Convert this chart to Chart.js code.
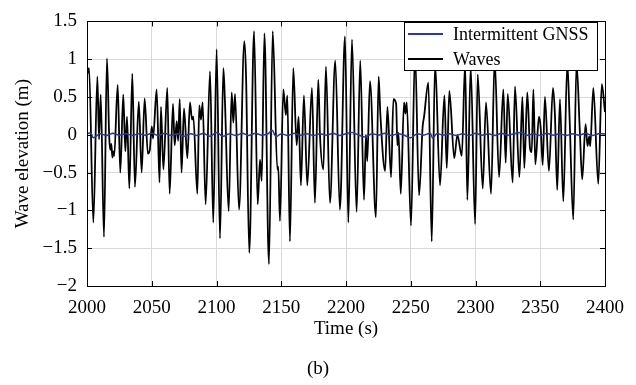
<!DOCTYPE html>
<html>
<head>
<meta charset="utf-8">
<script src="https://cdn.jsdelivr.net/npm/chart.js@4.4.0/dist/chart.umd.min.js"></script>
<style>
  html, body { margin: 0; padding: 0; background: #fff; }
  #waves { display: block; }
</style>
</head>
<body>
<canvas id="waves" width="636" height="385"></canvas>
<script>
// wave elevation (peaks / troughs), time in s, elevation in m
const waveTime = [
  2000, 2001.6, 2004.9, 2008, 2009.3, 2010.6, 2013.1, 2015.4, 2017.2, 2018, 2018.8, 2019.6, 2020.3, 2021,
  2023.7, 2025.7, 2028, 2029.6, 2030.9, 2032.7, 2035, 2037, 2040, 2042.2, 2044.5, 2047, 2048.5, 2050, 2051,
  2053.8, 2056, 2057.1, 2059, 2062, 2063.8, 2066.4, 2067.7, 2069.3, 2070.4, 2071.6, 2073, 2074.9, 2077.5,
  2079.5, 2081.1, 2082.1, 2085.2, 2086.7, 2088, 2089.3, 2091.6, 2095, 2097.5, 2100.1, 2102.7, 2105.3, 2106.5,
  2109.4, 2111.7, 2113, 2114.3, 2117.4, 2121.5, 2122.8, 2125.3, 2129, 2131.8, 2133.6, 2134.9, 2137, 2140.5,
  2143.4, 2147, 2147.7, 2149, 2151.6, 2153.6, 2154.7, 2156.7, 2159.3, 2161.9, 2163.4, 2165.2, 2167.5, 2170.1,
  2173.7, 2176, 2178.6, 2179.9, 2182.5, 2184.5, 2187.6, 2191.7, 2195.3, 2199.2, 2201.8, 2204.6, 2208.2, 2211,
  2213.9, 2215.4, 2216.4, 2218.5, 2223.1, 2225.2, 2226.5, 2230.2, 2232, 2234.8, 2236.6, 2238.7, 2239.7, 2240.5,
  2242.3, 2244.8, 2245.9, 2246.9, 2250.2, 2253.3, 2256.4, 2259.2, 2260.3, 2263.6, 2266.2, 2268.8, 2272.6, 2276,
  2277.8, 2279.8, 2283.6, 2286, 2289.4, 2292, 2293.7, 2296.3, 2299.7, 2301.7, 2305.6, 2308.1, 2312, 2314.8,
  2318.2, 2321.5, 2323.3, 2324.9, 2328.7, 2330.5, 2333.9, 2336.2, 2337.7, 2340, 2342.1, 2343.4, 2344.7, 2346.2,
  2349, 2350.3, 2351.9, 2353.6, 2356.7, 2359.8, 2361.3, 2363.1, 2365.2, 2367.8, 2370.9, 2372.7, 2375.5, 2378,
  2380.6, 2382.4, 2385, 2386.5, 2387.8, 2388.6, 2391, 2394.8, 2397.5, 2400
];
const waveElev = [
  0.79, 0.88, -1.16, 0.77, -0.06, 0.53, -1.35, 1.01, -0.05, -0.2, -0.12, -0.3, -0.22, -0.28,
  0.66, -0.5, 0.53, -0.22, 0.24, -0.71, 0.81, -0.69, 0.44, -0.5, 0.48, -0.25, -0.2, 0.11, -0.05,
  0.6, -0.63, 0.37, -0.46, 0.62, -0.78, 0.41, -0.14, 0.18, -0.08, 0.47, -0.5, 0.35, -0.31,
  0.43, 0.2, 0.24, -0.78, 0.39, 0.2, 0.43, -0.92, 0.84, -1.16, 1.13, -1.37, 0.88, 0.45,
  -1.01, 0.56, 0.16, 0.54, -0.99, 1.24, 0.79, -1.56, 1.37, -0.92, -0.33, -0.61, 1.34, -1.71,
  1.37, -0.46, -0.42, -1.14, 0.6, 0.26, 0.52, -1.41, 0.88, -0.14, 0.24, -0.67, 0.52, -0.67,
  0.62, -0.9, 0.73, 0.0, -0.46, 0.9, -0.9, 0.98, -0.99, 1.3, -1.16, 1.26, -1.02, 0.98,
  -0.86, 0.0, -0.35, 0.71, -1.09, 0.77, 0.28, -0.48, 0.37, -0.56, 0.47, 0.41, -0.14, 0.03,
  -0.78, 0.43, 0.28, 0.43, -1.2, 1.1, -0.8, 0.11, 0.24, 0.69, -1.41, 0.95, -0.67, 0.52,
  -0.44, 0.58, -0.31, 0.0, -0.28, 0.95, -0.86, 0.9, -1.18, 0.8, -0.71, 0.43, -0.78, 1.0,
  -0.56, 0.6, -0.37, 0.54, -0.63, 0.64, -0.56, 0.5, -0.44, 0.56, -0.18, -0.23, 0.6, -0.39,
  0.24, 0.1, -0.4, 0.5, -0.48, 0.62, 0.28, -0.73, 0.47, -0.88, 0.95, 0.2, -1.12, 0.95,
  0.03, -0.59, 0.14, -0.15, -0.02, -0.15, 0.62, -0.65, 0.67, 0.3
];

// intermittent GNSS estimate, stays close to zero
const gnssTime = [
  2000, 2003, 2005, 2010, 2015, 2020, 2025, 2030, 2035, 2040, 2045, 2050, 2055, 2060, 2065, 2070, 2075,
  2080, 2085, 2090, 2095, 2100, 2105, 2110, 2115, 2120, 2125, 2130, 2135, 2140, 2143, 2146, 2150, 2155,
  2160, 2165, 2170, 2175, 2180, 2185, 2190, 2195, 2200, 2205, 2210, 2215, 2220, 2225, 2230, 2235, 2240,
  2245, 2250, 2255, 2260, 2265, 2267, 2270, 2275, 2280, 2285, 2290, 2295, 2300, 2305, 2310, 2315, 2320,
  2325, 2330, 2335, 2340, 2345, 2350, 2355, 2360, 2365, 2370, 2375, 2380, 2385, 2390, 2395, 2400
];
const gnssElev = [
  0.02, 0.02, -0.04, 0.015, -0.01, 0.02, -0.005, 0.015, -0.01, 0.015, -0.005, 0.02, -0.01, 0.02, -0.01, 0.015, -0.02,
  0.015, -0.01, 0.02, -0.02, 0.03, -0.02, 0.015, -0.01, 0.02, -0.01, 0.02, -0.005, 0.015, 0.06, -0.025, 0.015, -0.01,
  0.02, -0.005, 0.015, -0.01, 0.015, -0.005, 0.02, -0.01, 0.015, 0.03, -0.005, -0.03, 0.015, -0.005, 0.02, -0.01, 0.015,
  -0.005, -0.04, 0.015, -0.005, 0.02, -0.045, 0.015, -0.005, 0.015, -0.01, 0.015, -0.01, 0.02, -0.005, 0.015, -0.01, 0.02,
  -0.005, 0.015, 0.03, -0.005, 0.015, -0.01, 0.02, -0.005, 0.015, -0.01, 0.015, -0.005, 0.02, -0.01, 0.015, 0.01
];

const xTicks = [2000, 2050, 2100, 2150, 2200, 2250, 2300, 2350, 2400];
const yTicks = [-2, -1.5, -1, -0.5, 0, 0.5, 1, 1.5];

const serif = '"Liberation Serif", "DejaVu Serif", serif';
const fmt = v => v < 0 ? '\u2212' + Math.abs(v) : String(v);

// box, inward ticks, legend and the (b) caption, drawn matlab style
const matlabBox = {
  id: 'matlabBox',
  afterDraw(chart) {
    const ctx = chart.ctx;
    const a = chart.chartArea;
    const xs = chart.scales.x, ys = chart.scales.y;
    ctx.save();
    ctx.strokeStyle = '#000';
    ctx.lineWidth = 1;
    ctx.beginPath();
    xTicks.forEach(t => {
      const px = Math.round(xs.getPixelForValue(t)) + 0.5;
      ctx.moveTo(px, a.bottom); ctx.lineTo(px, a.bottom - 5);
      ctx.moveTo(px, a.top); ctx.lineTo(px, a.top + 5);
    });
    yTicks.forEach(v => {
      const py = Math.round(ys.getPixelForValue(v)) + 0.5;
      ctx.moveTo(a.left, py); ctx.lineTo(a.left + 5, py);
      ctx.moveTo(a.right, py); ctx.lineTo(a.right - 5, py);
    });
    ctx.stroke();
    ctx.strokeRect(Math.round(a.left) + 0.5, Math.round(a.top) + 0.5,
      Math.round(a.right - a.left), Math.round(a.bottom - a.top));

    // legend
    const lx = 404, ly = 22, lw = 193, lh = 48;
    ctx.fillStyle = '#fff';
    ctx.fillRect(lx, ly, lw, lh);
    ctx.strokeRect(lx + 0.5, ly + 0.5, lw, lh);
    ctx.font = '18px ' + serif;
    ctx.textBaseline = 'middle';
    ctx.textAlign = 'left';
    chart.data.datasets.forEach((ds, i) => {
      const cy = 34 + i * 25;
      ctx.strokeStyle = ds.borderColor;
      ctx.lineWidth = 2;
      ctx.beginPath();
      ctx.moveTo(408, cy); ctx.lineTo(443, cy);
      ctx.stroke();
      ctx.fillStyle = '#000';
      ctx.fillText(ds.label, 453, cy + 1);
    });

    ctx.font = '19px ' + serif;
    ctx.textAlign = 'center';
    ctx.fillText('(b)', 318, 369);
    ctx.restore();
  }
};

const ctx = document.getElementById('waves');
new Chart(ctx, {
  type: 'line',
  data: {
    datasets: [
      {
        label: 'Intermittent GNSS',
        data: gnssTime.map((t, i) => ({ x: t, y: gnssElev[i] })),
        borderColor: '#2b3a96',
        borderWidth: 1.5,
        pointRadius: 0,
        tension: 0.3
      },
      {
        label: 'Waves',
        data: waveTime.map((t, i) => ({ x: t, y: waveElev[i] })),
        borderColor: '#000',
        borderWidth: 1.8,
        pointRadius: 0,
        cubicInterpolationMode: 'monotone'
      }
    ]
  },
  options: {
    responsive: false,
    animation: false,
    layout: { padding: { left: 0, right: 31, top: 11, bottom: 0 } },
    plugins: {
      legend: { display: false },
      tooltip: { enabled: false }
    },
    scales: {
      x: {
        type: 'linear',
        min: 2000,
        max: 2400,
        afterBuildTicks: s => { s.ticks = xTicks.map(v => ({ value: v })); },
        afterFit: s => { s.height = 99; },
        grid: { color: '#d9d9d9', drawTicks: false },
        border: { display: false },
        ticks: {
          padding: 11,
          color: '#000',
          font: { family: serif, size: 19 },
          maxRotation: 0,
          callback: v => fmt(v)
        },
        title: {
          display: true,
          text: 'Time (s)',
          color: '#000',
          font: { family: serif, size: 19 },
          padding: { top: 0, bottom: 45 }
        }
      },
      y: {
        min: -2,
        max: 1.5,
        afterBuildTicks: s => { s.ticks = yTicks.map(v => ({ value: v })); },
        afterFit: s => { s.width = 87; },
        grid: { color: '#d9d9d9', drawTicks: false },
        border: { display: false },
        ticks: {
          padding: 10,
          color: '#000',
          font: { family: serif, size: 19 },
          callback: v => fmt(v)
        },
        title: {
          display: true,
          text: 'Wave elevation (m)',
          color: '#000',
          font: { family: serif, size: 19 },
          padding: { top: 12, bottom: 0 }
        }
      }
    }
  },
  plugins: [matlabBox]
});
</script>
</body>
</html>
